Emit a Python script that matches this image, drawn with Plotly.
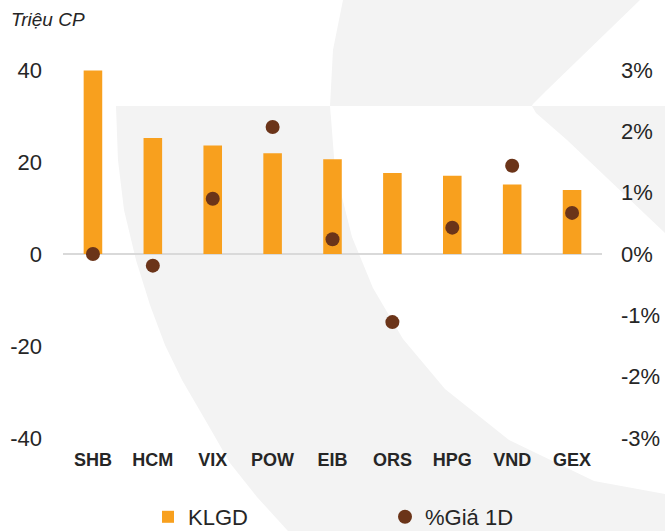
import plotly.graph_objects as go

# ---- data ----
categories = ["SHB", "HCM", "VIX", "POW", "EIB", "ORS", "HPG", "VND", "GEX"]
klgd = [39.9, 25.2, 23.6, 21.9, 20.6, 17.6, 17.0, 15.1, 13.9]          # Triệu CP
gia_1d = [0.0000, -0.0019, 0.0090, 0.0207, 0.0024, -0.0111, 0.0043, 0.0144, 0.0067]
left_ticks = [-40, -20, 0, 20, 40]
left_labels = ["-40", "-20", "0", "20", "40"]
right_ticks = [-0.03, -0.02, -0.01, 0.0, 0.01, 0.02, 0.03]
right_labels = ["-3%", "-2%", "-1%", "0%", "1%", "2%", "3%"]

W, H = 665, 531
L, R, T, B = 63, 63, 70, 93
PW, PH = W - L - R, H - T - B

def px(x, y):
    """pixel -> paper coords (decoration only)"""
    return (x - L) / PW, (H - B - y) / PH

def path(points, close=True):
    pts = [px(x, y) for x, y in points]
    d = "M " + " L ".join(f"{a:.4f},{b:.4f}" for a, b in pts)
    return d + (" Z" if close else "")

GRAY = "#f3f3f3"
outer = [(116, 106), (118, 160), (124, 210), (136, 260), (150, 305), (165, 345),
         (182, 380), (207, 423), (230, 463), (257, 497), (288, 531)]
inner = [(330, 106), (335, 169), (352, 237), (373, 288), (403, 339), (445, 389),
         (509, 440), (594, 481), (665, 494)]
ring = outer + [(665, 531)] + inner[::-1]
top_strip = [(343, 0), (640, 0), (545, 92), (533, 104), (532, 106), (330, 106), (333, 50)]
tri = [(532, 106), (665, 106), (665, 233), (567, 140), (536, 113)]

shapes = []
for pts in (ring, top_strip, tri):
    shapes.append(dict(type="path", xref="paper", yref="paper", path=path(pts),
                       fillcolor=GRAY, line=dict(width=0), layer="below"))

fig = go.Figure()
fig.add_trace(go.Bar(x=categories, y=klgd, name="KLGD",
                     marker=dict(color="#F8A01E", line=dict(width=0))))
fig.add_trace(go.Scatter(x=categories, y=gia_1d, name="%Giá 1D", yaxis="y2",
                         mode="markers",
                         marker=dict(color="#6B3419", size=14)))

FONT = "Liberation Sans, Arial, sans-serif"
fig.update_layout(
    width=W, height=H,
    margin=dict(l=L, r=R, t=T, b=B, autoexpand=False),
    paper_bgcolor="white", plot_bgcolor="rgba(0,0,0,0)",
    font=dict(family=FONT, color="#262626"),
    bargap=0.69,
    shapes=shapes,
    showlegend=True,
    legend=dict(orientation="h", x=(148 - L) / PW, xanchor="left",
                y=(H - B - 517) / PH, yanchor="middle",
                font=dict(size=22, color="#262626"),
                entrywidth=192, entrywidthmode="pixels",
                bgcolor="rgba(0,0,0,0)"),
    xaxis=dict(range=[-0.5, len(categories) - 0.5],
               showgrid=False, showline=False, ticks="", automargin=False,
               tickfont=dict(size=18, weight="bold", color="#262626"),
               ticklabelstandoff=9),
    yaxis=dict(range=[-40, 40], tickvals=left_ticks, ticktext=left_labels,
               showgrid=False, automargin=False,
               showline=False, ticks="", zeroline=True,
               zerolinecolor="#d9d9d9", zerolinewidth=2,
               tickfont=dict(size=22, color="#262626"),
               ticklabelstandoff=20),
    yaxis2=dict(range=[-0.03, 0.03], tickvals=right_ticks, ticktext=right_labels,
                overlaying="y", side="right", showgrid=False, zeroline=False,
                showline=False, ticks="", automargin=False,
                tickfont=dict(size=22, color="#262626"),
                ticklabelstandoff=18),
    annotations=[dict(text="Triệu CP", xref="paper", yref="paper",
                      x=(9 - L) / PW, y=(H - B - 19) / PH,
                      xanchor="left", yanchor="middle", showarrow=False,
                      font=dict(size=19, style="italic", color="#262626"))],
)

fig.write_html("out.html", config={"displayModeBar": False},
               post_script="document.body.style.margin='0';document.body.style.overflow='hidden';")
